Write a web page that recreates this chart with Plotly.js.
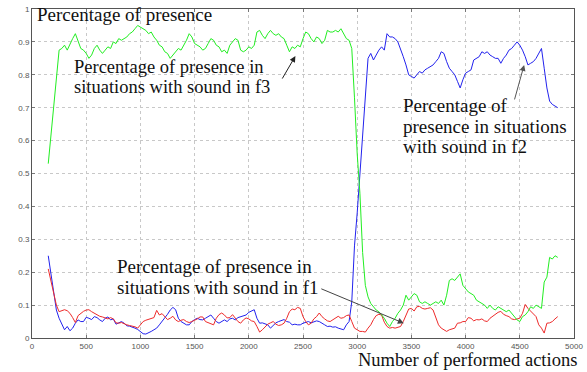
<!DOCTYPE html>
<html>
<head>
<meta charset="utf-8">
<script src="https://cdn.plot.ly/plotly-3.0.1.min.js"></script>
<style>
html,body{margin:0;padding:0;background:#fff;}
#chart{width:587px;height:372px;}
</style>
</head>
<body>
<div id="chart"></div>
<script>
// x positions: number of performed actions (150 .. 4850, every 25)
const xStart = 150, xStep = 25;

// Percentage of presence in situations with sound in f3 (green)
const presenceF3 = [
  0.53,0.62,0.71,0.80,0.875,0.88,0.89,0.875,0.895,0.91,0.925,0.90,0.88,0.875,
  0.865,0.85,0.86,0.88,0.89,0.875,0.865,0.875,0.885,0.88,0.90,0.895,0.91,0.905,0.91,0.915,0.925,0.93,0.94,0.95,
  0.945,0.94,0.935,0.925,0.93,0.915,0.905,0.89,0.885,0.87,0.865,0.85,0.86,0.87,0.88,0.875,0.89,0.905,0.925,0.915,
  0.895,0.89,0.885,0.875,0.88,0.895,0.91,0.905,0.89,0.885,0.87,0.875,0.865,0.89,0.90,0.91,0.905,0.875,0.87,0.875,
  0.885,0.88,0.89,0.93,0.935,0.92,0.91,0.925,0.935,0.925,0.92,0.925,0.915,0.91,0.89,0.87,0.885,0.88,0.89,0.885,
  0.91,0.93,0.925,0.91,0.90,0.915,0.91,0.895,0.905,0.935,0.93,0.93,0.935,0.93,0.94,0.925,0.91,0.905,0.88,0.73,
  0.56,0.44,0.26,0.16,0.125,0.105,0.095,0.085,0.08,0.07,0.06,0.045,0.035,0.05,0.06,0.075,0.085,0.10,0.13,0.115,
  0.125,0.135,0.13,0.11,0.105,0.11,0.105,0.10,0.105,0.11,0.105,0.115,0.10,0.13,0.175,0.18,0.175,0.185,0.195,0.16,
  0.15,0.14,0.135,0.13,0.115,0.11,0.105,0.10,0.09,0.10,0.09,0.085,0.095,0.09,0.085,0.08,0.085,0.075,0.065,0.055,
  0.05,0.065,0.07,0.08,0.095,0.09,0.10,0.095,0.09,0.17,0.185,0.245,0.24,0.25,0.245
];

// Percentage of presence in situations with sound in f2 (blue)
const presenceF2 = [
  0.25,0.19,0.13,0.085,0.06,0.04,0.025,0.035,0.022,0.03,0.045,0.055,0.05,0.05,
  0.063,0.06,0.056,0.065,0.062,0.055,0.05,0.06,0.064,0.055,0.058,0.042,0.045,0.05,0.045,0.037,0.036,0.034,0.03,0.026,
  0.018,0.013,0.012,0.015,0.02,0.025,0.03,0.04,0.05,0.06,0.072,0.085,0.093,0.086,0.06,0.05,0.045,0.04,0.04,0.05,
  0.056,0.06,0.056,0.055,0.06,0.065,0.07,0.06,0.05,0.045,0.05,0.055,0.05,0.058,0.06,0.055,0.062,0.065,0.066,0.07,
  0.078,0.082,0.086,0.06,0.045,0.046,0.042,0.04,0.03,0.038,0.046,0.05,0.052,0.056,0.05,0.048,0.04,0.042,0.04,0.04,
  0.045,0.048,0.05,0.046,0.05,0.052,0.05,0.046,0.04,0.035,0.036,0.033,0.034,0.03,0.028,0.025,0.04,0.05,0.11,0.28,
  0.38,0.50,0.63,0.76,0.85,0.865,0.845,0.86,0.875,0.885,0.875,0.925,0.915,0.915,0.91,0.90,0.88,0.855,0.83,0.80,
  0.795,0.79,0.80,0.81,0.805,0.815,0.82,0.825,0.83,0.84,0.85,0.87,0.865,0.84,0.82,0.81,0.80,0.78,0.76,0.785,
  0.805,0.81,0.815,0.845,0.85,0.855,0.87,0.865,0.87,0.86,0.855,0.85,0.85,0.835,0.85,0.86,0.875,0.88,0.89,0.90,
  0.89,0.875,0.855,0.83,0.835,0.84,0.85,0.865,0.88,0.82,0.76,0.72,0.71,0.705,0.70
];

// Percentage of presence in situations with sound in f1 (red)
const presenceF1 = [
  0.21,0.17,0.13,0.10,0.08,0.084,0.086,0.083,0.075,0.062,0.047,0.068,0.075,0.081,
  0.085,0.086,0.08,0.075,0.069,0.066,0.064,0.06,0.058,0.062,0.058,0.046,0.045,0.047,0.043,0.04,0.038,0.037,0.034,0.03,
  0.04,0.05,0.054,0.056,0.058,0.062,0.084,0.07,0.074,0.065,0.056,0.06,0.066,0.055,0.05,0.054,0.056,0.05,0.047,0.05,
  0.053,0.058,0.064,0.064,0.05,0.046,0.042,0.04,0.06,0.071,0.076,0.07,0.061,0.062,0.071,0.06,0.05,0.045,0.055,0.061,
  0.058,0.052,0.05,0.035,0.018,0.025,0.035,0.042,0.046,0.05,0.042,0.038,0.04,0.045,0.06,0.08,0.088,0.086,0.093,0.09,
  0.065,0.05,0.04,0.045,0.058,0.065,0.076,0.065,0.058,0.052,0.05,0.055,0.062,0.066,0.06,0.062,0.068,0.07,0.05,0.03,
  0.025,0.02,0.02,0.018,0.03,0.04,0.056,0.068,0.072,0.07,0.048,0.035,0.03,0.032,0.03,0.032,0.035,0.05,0.07,0.088,
  0.09,0.082,0.095,0.096,0.09,0.088,0.09,0.092,0.085,0.065,0.04,0.03,0.025,0.02,0.025,0.028,0.03,0.045,0.046,0.05,
  0.05,0.062,0.06,0.052,0.056,0.055,0.058,0.052,0.05,0.06,0.066,0.07,0.078,0.081,0.072,0.068,0.065,0.058,0.056,0.058,
  0.06,0.075,0.102,0.09,0.082,0.075,0.065,0.04,0.03,0.015,0.045,0.046,0.05,0.058,0.065
];

const xTicks = [0,500,1000,1500,2000,2500,3000,3500,4000,4500,5000];
const yTicks = [0,0.1,0.2,0.3,0.4,0.5,0.6,0.7,0.8,0.9,1];
const yTickText = ['0','0.1','0.2','0.3','0.4','0.5','0.6','0.7','0.8','0.9','1'];

const labelF3 = ['Percentage of presence in', 'situations with sound in f3'];
const labelF2 = ['Percentage of', 'presence in situations', 'with sound in f2'];
const labelF1 = ['Percentage of presence in', 'situations with sound in f1'];
const yTitle = 'Percentage of presence';
const xTitle = 'Number of performed actions';

const xs = presenceF3.map((_, i) => xStart + i * xStep);

const serif = '"Liberation Serif", "Times New Roman", serif';

const traces = [
  {x: xs, y: presenceF2, type: 'scatter', mode: 'lines', line: {color: '#2222ee', width: 1}, hoverinfo: 'skip'},
  {x: xs, y: presenceF1, type: 'scatter', mode: 'lines', line: {color: '#ee2a2a', width: 1}, hoverinfo: 'skip'},
  {x: xs, y: presenceF3, type: 'scatter', mode: 'lines', line: {color: '#22ee22', width: 1}, hoverinfo: 'skip'}
];

const axisCommon = {
  showgrid: true, gridcolor: '#c8c8c8', griddash: 'dot', gridwidth: 1,
  zeroline: false, showline: true, linecolor: '#555', linewidth: 1, mirror: 'ticks',
  ticks: 'inside', ticklen: 3, tickcolor: '#777',
  tickfont: {family: '"Liberation Sans", Arial, sans-serif', size: 8, color: '#555'}
};

// helper: one annotation per text line (paper coords)
function textLines(lines, x, yFirst, gap, size) {
  return lines.map((t, i) => ({
    xref: 'paper', yref: 'paper', x: x, y: yFirst - i * gap,
    xanchor: 'left', yanchor: 'middle', align: 'left',
    text: t, showarrow: false, font: {family: serif, size: size, color: '#111'}
  }));
}

const layout = {
  width: 587, height: 372,
  margin: {l: 32, r: 13, t: 9, b: 34},
  paper_bgcolor: '#fff', plot_bgcolor: '#fff',
  showlegend: false,
  xaxis: Object.assign({}, axisCommon, {range: [0, 5000], tickvals: xTicks, ticktext: xTicks.map(String)}),
  yaxis: Object.assign({}, axisCommon, {range: [0, 1], tickvals: yTicks, ticktext: yTickText}),
  annotations: [
    {xref: 'paper', yref: 'paper', x: 0.005, y: 0.982, xanchor: 'left', yanchor: 'middle',
     text: yTitle, showarrow: false, font: {family: serif, size: 19, color: '#111'}},
    {xref: 'paper', yref: 'paper', x: 1.008, y: -0.068, xanchor: 'right', yanchor: 'middle', borderpad: 0,
     text: xTitle, showarrow: false, font: {family: serif, size: 18.5, color: '#111'}},
    {xref: 'x', yref: 'y', x: 2430, y: 0.857, ax: -14, ay: 24, axref: 'pixel', ayref: 'pixel',
     text: '', showarrow: true, arrowhead: 2, arrowsize: 1.2, arrowwidth: 1, arrowcolor: '#222'},
    {xref: 'x', yref: 'y', x: 4540, y: 0.83, ax: -10, ay: 36, axref: 'pixel', ayref: 'pixel',
     text: '', showarrow: true, arrowhead: 2, arrowsize: 1.2, arrowwidth: 1, arrowcolor: '#555'},
    {xref: 'x', yref: 'y', x: 3430, y: 0.045, ax: -84, ay: -35, axref: 'pixel', ayref: 'pixel',
     text: '', showarrow: true, arrowhead: 2, arrowsize: 1.2, arrowwidth: 1, arrowcolor: '#444'}
  ]
  .concat(textLines(labelF3, 0.074, 0.8246, 0.0608, 18.5))
  .concat(textLines(labelF2, 0.681, 0.7052, 0.0618, 19))
  .concat(textLines(labelF1, 0.154, 0.2167, 0.0626, 19))
};

Plotly.newPlot('chart', traces, layout, {staticPlot: true, displayModeBar: false});
</script>
</body>
</html>
